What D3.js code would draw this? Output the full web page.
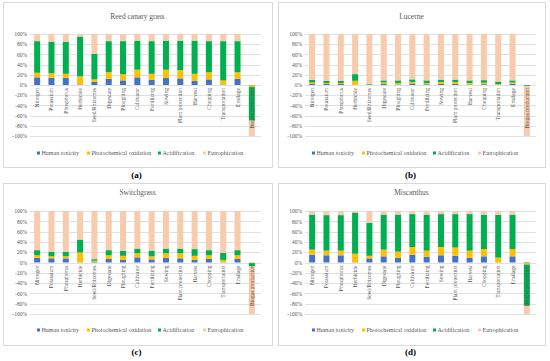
<!DOCTYPE html>
<html lang="en">
<head>
<meta charset="UTF-8">
<title>Environmental impact shares by crop</title>
<script src="https://d3js.org/d3.v7.min.js"></script>
<style>
    body { margin: 0; background: #fff; }
    svg { display: block; }
    text { font-family: "Palatino Linotype", "Book Antiqua", "Liberation Serif", "DejaVu Serif", serif; }
</style>
</head>
<body>
<script>
    // categories (process steps)
    const categories = ["Nitrogen", "Potassium", "Phosphorus", "Herbicide", "Seed/Rhizomes", "Digestate",
        "Ploughing", "Cultivator", "Fertilizing", "Sowing", "Plant protection", "Harvest", "Chopping",
        "Transportation", "Ensilage", "Biogas production"];
    const seriesNames = ["Human toxicity", "Photochemical oxidation", "Acidification", "Eutrophication"];
    const seriesColors = ["#4472C4", "#FFC000", "#00B050", "#F8CBAD"];
    const tickValues = [-100, -80, -60, -40, -20, 0, 20, 40, 60, 80, 100];

    // (a) Reed canary grass, % share
    const reedHT = [15, 14, 14, 1, 6, 12, 9, 15, 10, 14, 13, 8, 11, 1, 12, -1];
    const reedPO = [9, 9, 8, 16, 5, 13, 12, 15, 12, 16, 16, 14, 14, 8, 13, -3];
    const reedAC = [62, 62, 63, 78, 50, 61, 65, 57, 64, 57, 58, 65, 61, 77, 61, -66];
    const reedEU = [14, 15, 15, 5, 39, 14, 14, 13, 14, 13, 13, 13, 14, 14, 14, -30];

    // (b) Lucerne
    const lucHT = [2, 2, 2, 0.3, 0.3, 2, 1, 3, 1.5, 2, 2, 1, 1.5, 0.2, 2, -0.2];
    const lucPO = [3, 2, 2, 8, 0.5, 3, 3, 3, 2.5, 4, 4, 3, 3, 1.5, 3, -0.3];
    const lucAC = [5, 4, 4, 13, 1.5, 4, 5, 5, 5, 4.5, 4.5, 5, 5, 5, 4, -2];
    const lucEU = [90, 92, 92, 78.7, 97.7, 91, 91, 89, 91, 89.5, 89.5, 91, 90.5, 93.3, 91, -97.5];

    // (c) Switchgrass
    const swHT = [9, 8, 8, 0.5, 2, 7, 5, 10, 6, 9, 8, 5, 7, 0.5, 7, -0.3];
    const swPO = [5, 4, 4, 19, 1.5, 7, 8, 8, 6, 9, 10, 8, 7, 4.5, 7, -1];
    const swAC = [10, 9, 9, 25, 3, 10, 10, 9, 11, 9, 9, 13, 10, 14, 10, -6];
    const swEU = [76, 79, 79, 55.5, 93.5, 76, 77, 73, 77, 73, 73, 74, 76, 81, 76, -92.7];

    // (d) Miscanthus
    const misHT = [15, 14, 14, 0.5, 8, 12, 9, 15, 11, 14, 13, 9, 12, 0.5, 12, -1];
    const misPO = [10, 9, 9, 16.5, 5, 13, 12, 15, 12, 16, 16, 14, 14, 9, 14, -3];
    const misAC = [68, 69, 69, 80, 64, 68, 72, 64, 70, 64, 65, 71, 67, 83, 67, -80];
    const misEU = [7, 8, 8, 3, 23, 7, 7, 6, 7, 6, 6, 6, 7, 7.5, 7, -16];

    const charts = [
        { title: "Reed canary grass", label: "(a)", series: [reedHT, reedPO, reedAC, reedEU] },
        { title: "Lucerne", label: "(b)", series: [lucHT, lucPO, lucAC, lucEU] },
        { title: "Switchgrass", label: "(c)", series: [swHT, swPO, swAC, swEU] },
        { title: "Miscanthus", label: "(d)", series: [misHT, misPO, misAC, misEU] }
    ];

    // panel placement (x/y of box, plot top/bottom, legend & caption rows)
    const rows = [
        { y: 2, h: 165, titleY: 19, plotTop: 34, plotBottom: 136, legendY: 155, capY: 178 },
        { y: 183, h: 162, titleY: 195, plotTop: 211, plotBottom: 314, legendY: 332, capY: 355 }
    ];
    const cols = [{ x: 3, w: 269 }, { x: 278, w: 267 }];

    const width = 550, height = 361;
    const svg = d3.select("body").append("svg").attr("width", width).attr("height", height);

    const textGray = "#595959";
    const gridGray = "#d9d9d9";

    charts.forEach((c, i) => {
        const row = rows[Math.floor(i / 2)];
        const col = cols[i % 2];
        const g = svg.append("g");

        // box
        g.append("rect")
            .attr("x", col.x + 0.5).attr("y", row.y + 0.5)
            .attr("width", col.w).attr("height", row.h)
            .attr("fill", "#fff").attr("stroke", gridGray).attr("stroke-width", 1);

        // caption below the box
        svg.append("text")
            .attr("x", col.x + col.w / 2 - 1).attr("y", row.capY)
            .attr("text-anchor", "middle")
            .attr("font-size", 9).attr("font-weight", "bold").attr("fill", "#000")
            .text(c.label);

        g.append("text")
            .attr("x", col.x + col.w / 2).attr("y", row.titleY)
            .attr("text-anchor", "middle")
            .attr("font-size", 7.5).attr("fill", textGray)
            .text(c.title);

        const x = d3.scaleBand()
            .domain(categories)
            .range([col.x + 27, col.x + 256])
            .paddingInner(0.58).paddingOuter(0.29);

        const y = d3.scaleLinear()
            .domain([-100, 100])
            .range([row.plotBottom, row.plotTop]);

        // grid
        g.selectAll(".grid")
            .data(tickValues)
            .enter().append("line")
            .attr("x1", col.x + 27).attr("x2", col.x + 258)
            .attr("y1", d => Math.round(y(d)) + 0.5)
            .attr("y2", d => Math.round(y(d)) + 0.5)
            .attr("stroke", gridGray).attr("stroke-width", 0.8);

        // y axis tick labels
        const yAxis = d3.axisLeft(y)
            .tickValues(tickValues)
            .tickSize(0).tickPadding(3)
            .tickFormat(d => d + "%");
        const ya = g.append("g")
            .attr("transform", `translate(${col.x + 27},0)`)
            .call(yAxis);
        ya.select(".domain").remove();
        ya.selectAll("text")
            .attr("font-size", 5.5).attr("fill", textGray)
            .style("font-family", '"Palatino Linotype", "Book Antiqua", "Liberation Serif", serif');

        // stacked bars
        const table = categories.map((cat, k) => {
            const row = { cat };
            seriesNames.forEach((s, j) => row[s] = c.series[j][k]);
            return row;
        });
        const stacked = d3.stack()
            .keys(seriesNames)
            .offset(d3.stackOffsetDiverging)(table);

        g.selectAll(".layer")
            .data(stacked)
            .enter().append("g")
            .attr("fill", (d, j) => seriesColors[j])
            .selectAll("rect")
            .data(d => d)
            .enter().append("rect")
            .attr("x", d => x(d.data.cat))
            .attr("width", x.bandwidth())
            .attr("y", d => y(Math.max(d[0], d[1])))
            .attr("height", d => Math.abs(y(d[0]) - y(d[1])));

        // rotated category labels under the zero line
        g.selectAll(".cat")
            .data(categories)
            .enter().append("text")
            .attr("transform", d => `translate(${x(d) + x.bandwidth() / 2 + 2},${y(0) + 3}) rotate(-90)`)
            .attr("text-anchor", "end")
            .attr("font-size", 5.5).attr("fill", textGray)
            .text(d => d);

        // legend
        const legend = g.append("g");
        const offsets = [0, 50, 121, 166];
        const lx = col.x + 34;
        seriesNames.forEach((s, j) => {
            legend.append("rect")
                .attr("x", lx + offsets[j]).attr("y", row.legendY - 3.5)
                .attr("width", 3).attr("height", 3)
                .attr("fill", seriesColors[j]);
            legend.append("text")
                .attr("x", lx + offsets[j] + 4.5).attr("y", row.legendY)
                .attr("font-size", 6).attr("fill", textGray)
                .text(s);
        });
    });
</script>
</body>
</html>
